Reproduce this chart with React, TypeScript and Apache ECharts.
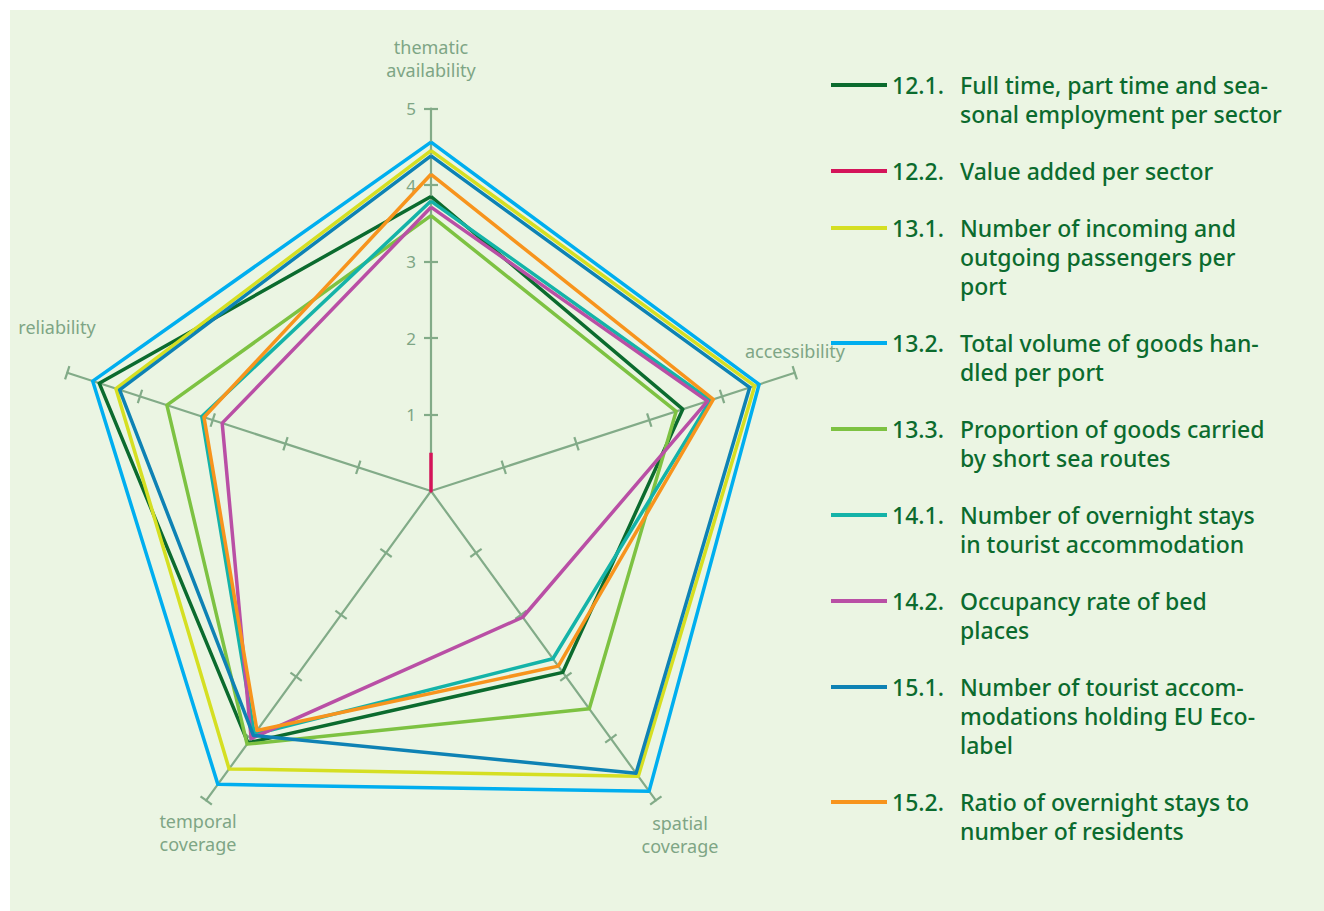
import React, { useEffect, useRef } from 'react';
import * as echarts from 'echarts';

// Radar indicators (ECharts order: top, then counter-clockwise)
const indicatorNames = ['thematic availability', 'reliability', 'temporal coverage', 'spatial coverage', 'accessibility'];
const indicatorLabels = ['thematic\navailability', 'reliability', 'temporal\ncoverage', 'spatial\ncoverage', 'accessibility'];
const axisMin = 0;
const axisMax = 5;
const tickValues = [1, 2, 3, 4, 5];

const seriesNumbers = ['12.1.', '12.2.', '13.1.', '13.2.', '13.3.', '14.1.', '14.2.', '15.1.', '15.2.'];
const seriesNames = [
  'Full time, part time and seasonal employment per sector',
  'Value added per sector',
  'Number of incoming and outgoing passengers per port',
  'Total volume of goods handled per port',
  'Proportion of goods carried by short sea routes',
  'Number of overnight stays in tourist accommodation',
  'Occupancy rate of bed places',
  'Number of tourist accommodations holding EU Eco-label',
  'Ratio of overnight stays to number of residents',
];
const legendLines = [
  ['Full time, part time and sea-', 'sonal employment per sector'],
  ['Value added per sector'],
  ['Number of incoming and', 'outgoing passengers per', 'port'],
  ['Total volume of goods han-', 'dled per port'],
  ['Proportion of goods carried', 'by short sea routes'],
  ['Number of overnight stays', 'in tourist accommodation'],
  ['Occupancy rate of bed', 'places'],
  ['Number of tourist accom-', 'modations holding EU Eco-', 'label'],
  ['Ratio of overnight stays to', 'number of residents'],
];
const seriesColors = ['#0b6b2e', '#d4145a', '#d5df22', '#00aeef', '#7dc242', '#14b3a8', '#b94fa5', '#0e82b4', '#f7941d'];

// values: [thematic, reliability, temporal, spatial, accessibility]
const v12_1 = [3.85, 4.56, 4.07, 2.93, 3.46];
const v12_2 = [0.5, 0, 0, 0, 0];
const v13_1 = [4.45, 4.33, 4.49, 4.61, 4.45];
const v13_2 = [4.56, 4.65, 4.74, 4.85, 4.51];
const v13_3 = [3.6, 3.63, 4.09, 3.52, 3.37];
const v14_1 = [3.79, 3.15, 3.93, 2.71, 3.84];
const v14_2 = [3.71, 2.87, 4.0, 2.04, 3.8];
const v15_1 = [4.38, 4.28, 3.95, 4.56, 4.38];
const v15_2 = [4.14, 3.12, 3.87, 2.83, 3.88];
const seriesValues = [v12_1, v12_2, v13_1, v13_2, v13_3, v14_1, v14_2, v15_1, v15_2];

const AXIS_COLOR = '#82ab88';
const LABEL_COLOR = '#7ea585';
const TEXT_COLOR = '#0b6b2e';
const FONT = '"Noto Sans", "Open Sans", sans-serif';

export default function App() {
  const ref = useRef<HTMLDivElement>(null);
  useEffect(() => {
    if (!ref.current) return;
    const chart = echarts.init(ref.current, undefined, { renderer: 'svg' });

    const center = [421, 481];
    const radius = 382.5;

    const baseRadar = {
      center,
      radius,
      startAngle: 90,
      shape: 'polygon',
      splitNumber: 5,
      splitLine: { show: false },
      splitArea: { show: false },
      axisName: { show: false },
    };

    const indicators0 = indicatorNames.map((n, i) => ({
      name: n,
      min: axisMin,
      max: axisMax,
      ...(i === 0
        ? {
            axisLabel: {
              show: true,
              color: LABEL_COLOR,
              fontSize: 17,
              fontFamily: FONT,
              margin: 15,
              customValues: tickValues,
            },
          }
        : {}),
    }));
    const indicators1 = indicatorNames.map((n) => ({ name: n, min: axisMin, max: axisMax }));

    // legend via graphic (hanging indent layout)
    const legendGraphics: any[] = [];
    let y = 75;
    const lh = 29;
    seriesNames.forEach((_, i) => {
      legendGraphics.push({
        type: 'line',
        shape: { x1: 821, y1: y, x2: 877, y2: y },
        style: { stroke: seriesColors[i], lineWidth: 4 },
        silent: true,
      });
      legendGraphics.push({
        type: 'text',
        x: 882,
        y: y,
        style: {
          text: seriesNumbers[i],
          fill: TEXT_COLOR,
          font: `500 23px ${FONT}`,
          verticalAlign: 'middle',
          align: 'left',
        },
      });
      legendGraphics.push({
        type: 'text',
        x: 950,
        y: y - lh / 2,
        style: {
          text: legendLines[i].join('\n'),
          fill: TEXT_COLOR,
          font: `500 23px ${FONT}`,
          lineHeight: lh,
          verticalAlign: 'top',
          align: 'left',
        },
      });
      y += legendLines[i].length * lh + 28;
    });

    const namePos = [
      [421, 25, 'center'],
      [47, 305, 'center'],
      [188, 799, 'center'],
      [670, 801, 'center'],
      [785, 329, 'center'],
    ];
    const nameGraphics = indicatorLabels.map((t, i) => ({
      type: 'text',
      x: namePos[i][0],
      y: namePos[i][1],
      style: {
        text: t,
        fill: LABEL_COLOR,
        font: `18px ${FONT}`,
        lineHeight: 23,
        align: namePos[i][2],
        verticalAlign: 'top',
      },
    }));

    const tickStyle = { color: AXIS_COLOR, width: 2.2 };

    chart.setOption({
      animation: false,
      backgroundColor: '#ebf5e3',
      radar: [
        {
          ...baseRadar,
          indicator: indicators0,
          axisLine: { show: true, lineStyle: { color: AXIS_COLOR, width: 2.2 } },
          axisTick: { show: true, length: 7, lineStyle: tickStyle, customValues: tickValues },
          axisLabel: { show: false },
        },
        {
          ...baseRadar,
          indicator: indicators1,
          axisLine: { show: false },
          axisTick: { show: true, length: -7, lineStyle: tickStyle, customValues: tickValues },
          axisLabel: { show: false },
        },
      ],
      series: seriesNames.map((name, i) => ({
        type: 'radar',
        name: `${seriesNumbers[i]} ${name}`,
        radarIndex: 0,
        symbol: 'none',
        lineStyle: { color: seriesColors[i], width: 3.5 },
        itemStyle: { color: seriesColors[i] },
        data: [{ value: seriesValues[i], name: `${seriesNumbers[i]} ${name}` }],
      })),
      graphic: [...legendGraphics, ...nameGraphics],
    });

    return () => chart.dispose();
  }, []);

  return (
    <div
      ref={ref}
      style={{ position: 'absolute', left: 10, top: 10, width: 1314, height: 901 }}
    />
  );
}
